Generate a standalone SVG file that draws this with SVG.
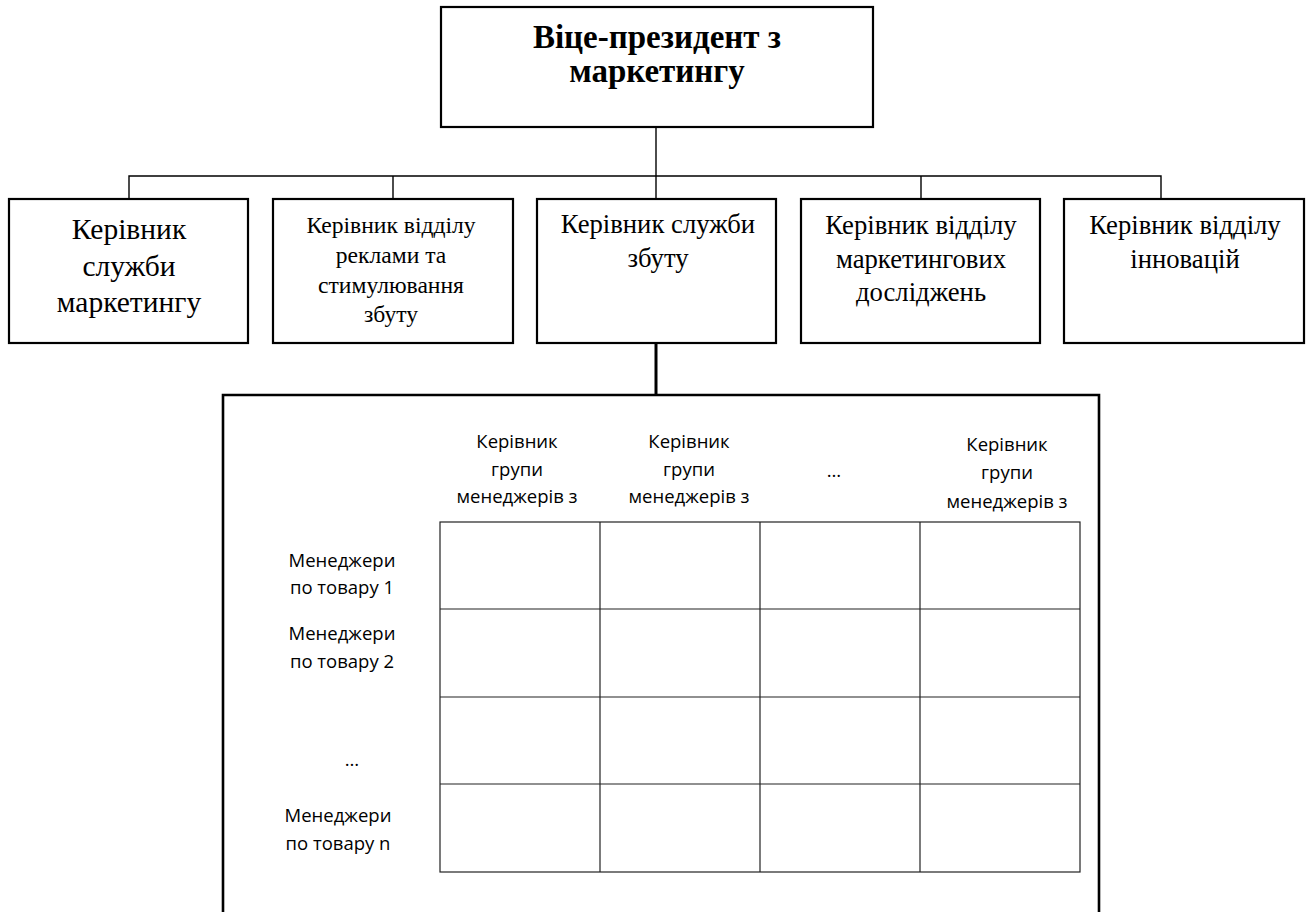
<svg xmlns="http://www.w3.org/2000/svg" width="1311" height="912" viewBox="0 0 1311 912">
<style>
.box{fill:#fff;stroke:#000;stroke-width:2.2}
.conn{fill:none;stroke:#000;stroke-width:1.4}
.thick{fill:none;stroke:#000;stroke-width:3}
.grid{fill:none;stroke:#222;stroke-width:1.2}
.tr{font-family:"Liberation Serif","Times New Roman",serif;text-anchor:middle;fill:#000}
.cal{font-family:"Open Sans","Noto Sans",sans-serif;font-size:18.5px;text-anchor:middle;fill:#000}
</style>
<rect width="1311" height="912" fill="#fff"/>
<g id="connectors">
<line class="conn" x1="656" y1="127" x2="656" y2="199"/>
<polyline class="conn" points="129,199 129,176 1161,176 1161,199"/>
<line class="conn" x1="393" y1="176" x2="393" y2="199"/>
<line class="conn" x1="921" y1="176" x2="921" y2="199"/>
<line class="thick" x1="656" y1="343" x2="656" y2="395"/>
</g>
<g id="vp">
<rect class="box" x="441" y="7" width="432" height="120"/>
<text class="tr" font-weight="bold" font-size="33" x="657" y="48">Віце-президент з</text>
<text class="tr" font-weight="bold" font-size="33" x="657" y="82">маркетингу</text>
</g>
<g id="n1">
<rect class="box" x="9" y="199" width="239" height="144"/>
<text class="tr" font-size="29.5" x="129" y="239">Керівник</text>
<text class="tr" font-size="29.5" x="129" y="276">служби</text>
<text class="tr" font-size="29.5" x="129" y="312">маркетингу</text>
</g>
<g id="n2">
<rect class="box" x="273" y="199" width="240" height="144"/>
<text class="tr" font-size="23.6" x="391" y="233">Керівник відділу</text>
<text class="tr" font-size="23.6" x="391" y="263">реклами та</text>
<text class="tr" font-size="23.6" x="391" y="293">стимулювання</text>
<text class="tr" font-size="23.6" x="391" y="322">збуту</text>
</g>
<g id="n3">
<rect class="box" x="537" y="199" width="239" height="144"/>
<text class="tr" font-size="26.7" x="658" y="233">Керівник служби</text>
<text class="tr" font-size="26.7" x="658" y="267">збуту</text>
</g>
<g id="n4">
<rect class="box" x="801" y="199" width="239" height="144"/>
<text class="tr" font-size="26.7" x="921" y="234">Керівник відділу</text>
<text class="tr" font-size="26.7" x="921" y="268">маркетингових</text>
<text class="tr" font-size="26.7" x="921" y="301">досліджень</text>
</g>
<g id="n5">
<rect class="box" x="1064" y="199" width="240" height="144"/>
<text class="tr" font-size="26.7" x="1185" y="234">Керівник відділу</text>
<text class="tr" font-size="26.7" x="1185" y="268">інновацій</text>
</g>
<g id="matrix">
<polyline fill="none" stroke="#000" stroke-width="2.6" points="223,915 223,395 1099,395 1099,915"/>
<g id="headers">
<text class="cal" x="517" y="448">Керівник</text>
<text class="cal" x="517" y="476">групи</text>
<text class="cal" x="517" y="503">менеджерів з</text>
<text class="cal" x="689" y="448">Керівник</text>
<text class="cal" x="689" y="476">групи</text>
<text class="cal" x="689" y="503">менеджерів з</text>
<text class="cal" x="834" y="477">…</text>
<text class="cal" x="1007" y="451">Керівник</text>
<text class="cal" x="1007" y="479">групи</text>
<text class="cal" x="1007" y="508">менеджерів з</text>
</g>
<g id="rows">
<text class="cal" x="342" y="567">Менеджери</text>
<text class="cal" x="342" y="594">по товару 1</text>
<text class="cal" x="342" y="640">Менеджери</text>
<text class="cal" x="342" y="668">по товару 2</text>
<text class="cal" x="352" y="766">…</text>
<text class="cal" x="338" y="822">Менеджери</text>
<text class="cal" x="338" y="850">по товару n</text>
</g>
<g id="grid">
<rect class="grid" x="440" y="522" width="640" height="350"/>
<line class="grid" x1="600" y1="522" x2="600" y2="872"/>
<line class="grid" x1="760" y1="522" x2="760" y2="872"/>
<line class="grid" x1="920" y1="522" x2="920" y2="872"/>
<line class="grid" x1="440" y1="609" x2="1080" y2="609"/>
<line class="grid" x1="440" y1="697" x2="1080" y2="697"/>
<line class="grid" x1="440" y1="784" x2="1080" y2="784"/>
</g>
</g>
</svg>
